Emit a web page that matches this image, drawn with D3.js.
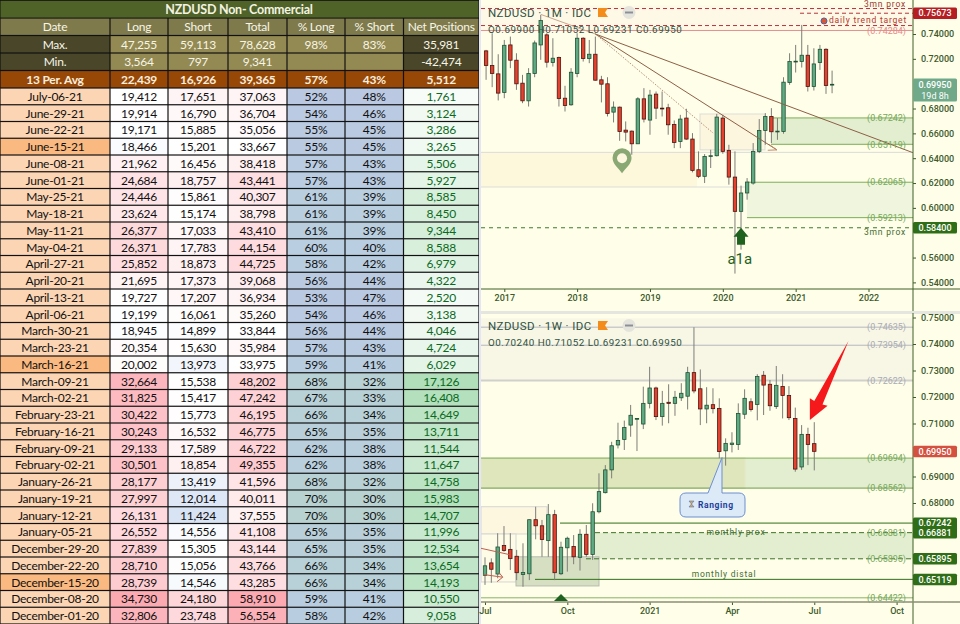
<!DOCTYPE html>
<html>
<head>
<meta charset="utf-8">
<script src="https://cdn.jsdelivr.net/npm/d3@7"></script>
<style>
  html, body { margin: 0; padding: 0; background: #fff; }
  svg { display: block; }
  .cell { font-family: Lato, sans-serif; font-size: 12px; text-anchor: middle; dominant-baseline: central; letter-spacing: -0.25px; }
  .tv { font-family: Roboto, sans-serif; }
  .tick text { font-family: Roboto, sans-serif; font-size: 9px; font-weight: 500; fill: #3c5a2c; }
</style>
</head>
<body>
<div id="chart"></div>
<script>
// table columns
const headers = ["Date", "Long", "Short", "Total", "% Long", "% Short", "Net Positions"];
const maxRow = ["Max.", "47,255", "59,113", "78,628", "98%", "83%", "35,981"];
const minRow = ["Min.", "3,564", "797", "9,341", "", "", "-42,474"];
const avgRow = ["13 Per. Avg", "22,439", "16,926", "39,365", "57%", "43%", "5,512"];
const dates = ["July-06-21", "June-29-21", "June-22-21", "June-15-21", "June-08-21", "June-01-21", "May-25-21", "May-18-21", "May-11-21", "May-04-21", "April-27-21", "April-20-21", "April-13-21", "April-06-21", "March-30-21", "March-23-21", "March-16-21", "March-09-21", "March-02-21", "February-23-21", "February-16-21", "February-09-21", "February-02-21", "January-26-21", "January-19-21", "January-12-21", "January-05-21", "December-29-20", "December-22-20", "December-15-20", "December-08-20", "December-01-20"];
const longs = [19412, 19914, 19171, 18466, 21962, 24684, 24446, 23624, 26377, 26371, 25852, 21695, 19727, 19199, 18945, 20354, 20002, 32664, 31825, 30422, 30243, 29133, 30501, 28177, 27997, 26131, 26552, 27839, 28710, 28739, 34730, 32806];
const shorts = [17651, 16790, 15885, 15201, 16456, 18757, 15861, 15174, 17033, 17783, 18873, 17373, 17207, 16061, 14899, 15630, 13973, 15538, 15417, 15773, 16532, 17589, 18854, 13419, 12014, 11424, 14556, 15305, 15056, 14546, 24180, 23748];
const totals = [37063, 36704, 35056, 33667, 38418, 43441, 40307, 38798, 43410, 44154, 44725, 39068, 36934, 35260, 33844, 35984, 33975, 48202, 47242, 46195, 46775, 46722, 49355, 41596, 40011, 37555, 41108, 43144, 43766, 43285, 58910, 56554];
const pctLongs = [52, 54, 55, 55, 57, 57, 61, 61, 61, 60, 58, 56, 53, 54, 56, 57, 59, 68, 67, 66, 65, 62, 62, 68, 70, 70, 65, 65, 66, 66, 59, 58];
const pctShorts = [48, 46, 45, 45, 43, 43, 39, 39, 39, 40, 42, 44, 47, 46, 44, 43, 41, 32, 33, 34, 35, 38, 38, 32, 30, 30, 35, 35, 34, 34, 41, 42];
const nets = [1761, 3124, 3286, 3265, 5506, 5927, 8585, 8450, 9344, 8588, 6979, 4322, 2520, 3138, 4046, 4724, 6029, 17126, 16408, 14649, 13711, 11544, 11647, 14758, 15983, 14707, 11996, 12534, 13654, 14193, 10550, 9058];
const darkerDates = ["June-15-21", "March-16-21", "December-15-20"];

// monthly candles, Oct 2016 to Jul 2021
const mOpen = [.7264,.7146,.7079,.6929,.7312,.7189,.7004,.6862,.7082,.7312,.7393,.7170,.7210,.6883,.6830,.7082,.7366,.7202,.7237,.7031,.6999,.6771,.6811,.6626,.6618,.6516,.6878,.6707,.6916,.6803,.6806,.6672,.6535,.6723,.6554,.6307,.6254,.6414,.6420,.6723,.6463,.6248,.5972,.6120,.6200,.6455,.6623,.6736,.6613,.6615,.7009,.7178,.7178,.7229,.6977,.7170,.7277,.6990];
const mHigh = [.7272,.7406,.7237,.7352,.7379,.7245,.7071,.7125,.7347,.7553,.7406,.7366,.7218,.6983,.7125,.7406,.7374,.7352,.7379,.7063,.7052,.6857,.6816,.6696,.6623,.6891,.6964,.6950,.6937,.6937,.6838,.6704,.6749,.6798,.6602,.6455,.6433,.6468,.6757,.6749,.6508,.6455,.6179,.6240,.6522,.6715,.6763,.6803,.6723,.7052,.7245,.7312,.7473,.7312,.7285,.7312,.7285,.7105];
const mLow = [.7031,.6972,.6865,.6883,.7125,.6950,.6843,.6816,.7052,.7192,.7130,.7138,.6816,.6776,.6822,.7052,.7178,.7165,.7025,.6849,.6736,.6688,.6540,.6535,.6428,.6516,.6688,.6589,.6715,.6736,.6589,.6481,.6481,.6548,.6286,.6240,.6200,.6321,.6414,.6436,.6187,.5471,.5664,.6066,.6187,.6441,.6508,.6522,.6548,.6597,.6991,.7090,.7130,.6937,.6945,.7111,.6918,.6923];
const mClose = [.7146,.7082,.6924,.7309,.7189,.6999,.6862,.7082,.7328,.7508,.7173,.7205,.6881,.6824,.7092,.7366,.7202,.7237,.7028,.6996,.6760,.6811,.6615,.6610,.6516,.6878,.6715,.6908,.6803,.6800,.6669,.6527,.6715,.6554,.6302,.6254,.6414,.6420,.6731,.6455,.6248,.5972,.6120,.6208,.6455,.6623,.6736,.6613,.6618,.7012,.7178,.7181,.7229,.6977,.7159,.7277,.6985,.6995];

// weekly candles, Jul 2020 to Jul 2021
const wOpen = [.6527,.6574,.6532,.6640,.6625,.6599,.6530,.6533,.6737,.6714,.6658,.6756,.6533,.6631,.6636,.6595,.6682,.6606,.6767,.6839,.6925,.7019,.7040,.7094,.7116,.7098,.7176,.7234,.7126,.7180,.7176,.7197,.7203,.7292,.7231,.7155,.7171,.7157,.6997,.7021,.7021,.7135,.7182,.7172,.7282,.7248,.7164,.7240,.7206,.7119,.6936,.7059,.7024];
const wHigh = [.6595,.6591,.6686,.6713,.6686,.6623,.6648,.6738,.6786,.6736,.6796,.6774,.6654,.6673,.6679,.6701,.6717,.6799,.6912,.6943,.7031,.7103,.7111,.7170,.7119,.7239,.7314,.7239,.7223,.7248,.7223,.7252,.7314,.7463,.7304,.7237,.7233,.7195,.7044,.7067,.7176,.7229,.7195,.7286,.7298,.7264,.7317,.7286,.7241,.7160,.7094,.7084,.7105];
const wLow = [.6491,.6499,.6516,.6616,.6547,.6509,.6484,.6509,.6663,.6597,.6597,.6509,.6528,.6541,.6569,.6545,.6597,.6585,.6761,.6836,.6893,.7006,.7000,.7050,.6996,.7079,.7157,.7113,.7092,.7101,.7129,.7185,.7153,.7214,.7094,.7101,.7138,.6969,.6941,.6991,.7000,.7117,.7145,.7112,.7132,.7148,.7155,.7119,.7113,.6918,.6925,.6943,.6923];
const wClose = [.6563,.6550,.6634,.6621,.6590,.6537,.6538,.6737,.6714,.6662,.6756,.6537,.6633,.6667,.6597,.6682,.6606,.6767,.6843,.6925,.7016,.7036,.7085,.7131,.7119,.7176,.7234,.7126,.7176,.7176,.7199,.7214,.7292,.7223,.7155,.7169,.7156,.6994,.7025,.7026,.7138,.7195,.7153,.7277,.7245,.7167,.7244,.7206,.7122,.6928,.7059,.7021,.6995];

// ticks hidden behind a price tag are left out
const mTicks = [.54, .56, .60, .62, .64, .66, .68, .72, .74];
const wTicks = [.68, .69, .71, .72, .73, .74, .75];
const mYears = ["2017", "2018", "2019", "2020", "2021", "2022"];
const mYearBars = [3, 15, 27, 39, 51, 63];
const wMonths = ["Jul", "Oct", "2021", "Apr", "Jul", "Oct"];
const wMonthBars = [0, 13, 26, 39, 52, 65];

// level labels
const mGreenLevels = [.67242, .65119, .62065, .59213];
const wGreenLevels = [.69694, .68562, .66881, .65895, .64422];
const wGreyLevels = [.74635, .73954, .72622];
const wDarkTags = [.67242, .66881, .65895, .65119];

// trend lines on the monthly pane, [bar, price]
const trendThin = [[9, .7558], [18, .74]];
const trendOuter = [[18, .74], [70.3, .6445]];
const trendMiddle = [[18, .74], [47.9, .6467]];
const trendDotted = [[18, .74], [37.4, .6603]];
const trendMiddleHead = [[46.6, .6512], [47.9, .6467], [46.4, .6464]];
// red arrow on the weekly pane, [bar, price]
const redArrow = [[57.4, .7411], [53.3, .7172], [54.1, .7167], [51.3, .7113], [51.3, .7195], [52, .7185]];
// small arrows at the left of the weekly pane
const wSmallLine = [[-.8, .6630], [3.9, .6605]];
const wSmallLine2 = [[-.2, .6530], [2.8, .6520]];
const wSmallHead = [[2.2, .6538], [2.8, .6520], [1.9, .6503]];

const W = 960, H = 624;
const svg = d3.select("#chart").append("svg").attr("width", W).attr("height", H);

/* ---------- table ---------- */
const colEdges = [0, 110, 168, 228, 287, 345, 403.5, 479];
const table = svg.append("g");
table.append("rect").attr("width", 479).attr("height", H).attr("fill", "#111");

function cell(row, col, y, h, fill, label, color, weight) {
    const x0 = colEdges[col], x1 = colEdges[col + 1];
    const g = table.append("g");
    g.append("rect").attr("x", x0 + 0.6).attr("y", y + 0.6).attr("width", x1 - x0 - 1.2).attr("height", h - 1.2).attr("fill", fill);
    g.append("text").attr("class", "cell")
        .attr("x", (x0 + x1) / 2).attr("y", y + h / 2)
        .attr("fill", color).attr("font-weight", weight || 400).text(label);
}

table.append("rect").attr("x", 0.5).attr("y", 0.8).attr("width", 478).attr("height", 16.8).attr("fill", "#4f6228");
table.append("text").attr("class", "cell").attr("x", 239).attr("y", 9.5)
    .attr("fill", "#f3f3e2").attr("font-weight", 700).style("font-size", "12.5px").text("NZDUSD Non- Commercial");

headers.forEach((d, i) => cell(0, i, 18, 17.5, "#7f7a4c", d, "#f6f5e6"));
maxRow.forEach((d, i) => cell(1, i, 35.5, 17.5, i === 0 || i === 6 ? "#4a462a" : "#938953", d, "#f6f5e6"));
minRow.forEach((d, i) => cell(2, i, 53, 17.5, i === 0 || i === 6 ? "#4a462a" : "#938953", d, "#f6f5e6"));
avgRow.forEach((d, i) => cell(3, i, 70.5, 17.5, "#974806", d, "#fbeede", 700));

const rowY = d3.scaleBand().domain(dates).range([88, 624]);
const fmt = d3.format(",");
const longColor = d3.scaleLinear().domain([11000, 19500, 35000]).range(["#d4e0f3", "#ffffff", "#fca9b1"]);
const shortColor = d3.scaleLinear().domain([11000, 15300, 29000]).range(["#d4e0f3", "#ffffff", "#fcc0c6"]);
const totalColor = d3.scaleLinear().domain([25000, 33700, 58910]).range(["#d4e0f3", "#ffffff", "#fca9b1"]);
const netColor = d3.scaleLinear().domain([0, 17126]).range(["#ffffff", "#b1dfba"]);
const pctColor = d3.scaleLinear().domain([52, 61, 70]).range(["#bac8e2", "#b9cfe0", "#b8d2d2"]);

dates.forEach((d, i) => {
    const y = rowY(d), h = rowY.bandwidth();
    cell(i, 0, y, h, darkerDates.includes(d) ? "#fab980" : "#fcd5b4", d, "#111");
    cell(i, 1, y, h, longColor(longs[i]), fmt(longs[i]), "#111");
    cell(i, 2, y, h, shortColor(shorts[i]), fmt(shorts[i]), "#111");
    cell(i, 3, y, h, totalColor(totals[i]), fmt(totals[i]), "#111");
    cell(i, 4, y, h, pctColor(pctLongs[i]), pctLongs[i] + "%", "#111");
    cell(i, 5, y, h, pctColor(pctLongs[i]), pctShorts[i] + "%", "#111");
    cell(i, 6, y, h, netColor(nets[i]), fmt(nets[i]), "#0b6a1d");
});

/* ---------- panes ---------- */
const paneLeft = 481, axisX = 913;
svg.append("rect").attr("x", 479).attr("width", 2).attr("height", H).attr("fill", "#e4e6f4");
svg.append("rect").attr("x", paneLeft).attr("width", W - paneLeft).attr("height", H).attr("fill", "#fffee9");
svg.append("rect").attr("x", paneLeft).attr("y", 311).attr("width", W - paneLeft).attr("height", 3).attr("fill", "#e6e6e0");

const clip = svg.append("defs");
clip.append("clipPath").attr("id", "clipM").append("rect").attr("x", paneLeft).attr("y", 0).attr("width", axisX - paneLeft).attr("height", 289);
clip.append("clipPath").attr("id", "clipW").append("rect").attr("x", paneLeft).attr("y", 314).attr("width", axisX - paneLeft).attr("height", 288);

const xM = d3.scaleLinear().domain([3, 63]).range([504.3, 868.5]);
const yM = d3.scaleLinear().domain([.54, .74]).range([282.4, 34]);
const xW = d3.scaleLinear().domain([0, 65]).range([485, 896.6]);
const yW = d3.scaleLinear().domain([.68, .75]).range([503, 317.5]);

const paneM = svg.append("g").attr("clip-path", "url(#clipM)");
const paneW = svg.append("g").attr("clip-path", "url(#clipW)");

function zone(pane, y, x0, x1, p0, p1, fill, stroke) {
    const r = pane.append("rect").attr("x", x0).attr("width", x1 - x0)
        .attr("y", y(p0)).attr("height", y(p1) - y(p0)).attr("fill", fill);
    if (stroke) r.attr("stroke", stroke);
}
function level(pane, y, x0, p, color, width, dash) {
    const l = pane.append("line").attr("x1", x0).attr("x2", axisX).attr("y1", y(p)).attr("y2", y(p))
        .attr("stroke", color).attr("stroke-width", width || 1);
    if (dash) l.attr("stroke-dasharray", dash);
}
function levelLabel(parent, y, p, color) {
    parent.append("text").attr("class", "tv").attr("x", 906).attr("y", y(p) + 3.2)
        .attr("text-anchor", "end").attr("font-size", 9).attr("fill", color)
        .text("(" + p.toFixed(5) + ")");
}
function tag(y, p, fill, label, extra) {
    const h = extra ? 23 : 11.5;
    svg.append("rect").attr("x", axisX).attr("y", y(p) - 5.7).attr("width", 44).attr("height", h).attr("rx", 1.5).attr("fill", fill);
    svg.append("text").attr("class", "tv").attr("x", 935).attr("y", y(p) + 3.2).attr("text-anchor", "middle")
        .attr("font-size", 9).attr("font-weight", 500).attr("fill", "#fff").text(label);
    if (extra) svg.append("text").attr("class", "tv").attr("x", 935).attr("y", y(p) + 14.5).attr("text-anchor", "middle")
        .attr("font-size", 9).attr("fill", "#fff").text(extra);
}
function candles(pane, x, y, o, h, l, c) {
    const bars = d3.range(o.length).map(i => ({ i, o: o[i], h: h[i], l: l[i], c: c[i] }));
    const g = pane.selectAll(null).data(bars).enter().append("g");
    g.append("line").attr("x1", d => x(d.i)).attr("x2", d => x(d.i))
        .attr("y1", d => y(d.h)).attr("y2", d => y(d.l))
        .attr("stroke", "#7d7d78").attr("stroke-width", 1);
    g.append("rect").attr("x", d => x(d.i) - 1.7).attr("width", 3.4)
        .attr("y", d => y(Math.max(d.o, d.c)))
        .attr("height", d => Math.max(0.8, Math.abs(y(d.o) - y(d.c))))
        .attr("fill", d => d.c >= d.o ? "#5fa983" : "#e5412e")
        .attr("stroke", d => d.c >= d.o ? "#1f5233" : "#4a1410").attr("stroke-width", 0.8);
}
function axes(pane, x, y, ticks, barTicks, barLabels, axisY, top) {
    svg.append("g").attr("transform", `translate(${axisX},0)`)
        .call(d3.axisRight(y).tickValues(ticks).tickFormat(d3.format(".5f")).tickSize(3).tickPadding(5))
        .call(g => g.select(".domain").remove())
        .call(g => g.selectAll("line").attr("stroke", "#3c5a2c"));
    svg.append("line").attr("x1", axisX).attr("x2", axisX).attr("y1", top).attr("y2", top + 311)
        .attr("stroke", "#3f6127").attr("stroke-width", 1);
    svg.append("g").attr("transform", `translate(0,${axisY})`)
        .call(d3.axisBottom(x).tickValues(barTicks).tickFormat((d, i) => barLabels[i]).tickSize(3).tickPadding(3))
        .call(g => g.select(".domain").remove())
        .call(g => g.selectAll("line").attr("stroke", "#3c5a2c"));
}

/* ---------- monthly pane ---------- */
zone(paneM, yM, paneLeft, axisX, .7631, .74284, "#fef9e6");
zone(paneM, yM, paneLeft, 697, .6447, .6168, "#fdf7dc", null);
level(paneM, yM, paneLeft, .6447, "#dcdcd8", 1);
level(paneM, yM, paneLeft, .6168, "#dcdcd8", 1);
zone(paneM, yM, 700, 765, .6756, .6467, "#fdf6de", "#dcdcd8");
zone(paneM, yM, 771, axisX, mGreenLevels[0], mGreenLevels[1], "#e2eecf");
zone(paneM, yM, 747, axisX, mGreenLevels[2], mGreenLevels[3], "#f0f5dd");
mGreenLevels.forEach((p, i) => level(paneM, yM, i < 2 ? 771 : 747, p, "#7cae58", 1));
level(paneM, yM, paneLeft, .7605, "#b8323a", 1, "4 3");
level(paneM, yM, 800, .75673, "#b8323a", 1, "4 3");
level(paneM, yM, paneLeft, .7468, "#b8323a", 1, "4 3");
level(paneM, yM, paneLeft, .74284, "#e68f8f", 1);
level(paneM, yM, paneLeft, .584, "#3f7a2e", 1, "4 4");

candles(paneM, xM, yM, mOpen, mHigh, mLow, mClose);

const lineGen = (x, y) => d3.line().x(d => x(d[0])).y(d => y(d[1]));
const mLine = lineGen(xM, yM);
paneM.append("path").attr("d", mLine(trendThin)).attr("fill", "none").attr("stroke", "#c8a68c").attr("stroke-width", 1);
paneM.append("path").attr("d", mLine(trendOuter)).attr("fill", "none").attr("stroke", "#8d5f45").attr("stroke-width", 1);
paneM.append("path").attr("d", mLine(trendMiddle)).attr("fill", "none").attr("stroke", "#8d5f45").attr("stroke-width", 1);
paneM.append("path").attr("d", mLine(trendMiddleHead)).attr("fill", "none").attr("stroke", "#c28b6c").attr("stroke-width", 1);
paneM.append("path").attr("d", mLine(trendDotted)).attr("fill", "none").attr("stroke", "#b89078").attr("stroke-width", 1).attr("stroke-dasharray", "1.5 1.5");

// location pin and a1a arrow
const pin = paneM.append("g").attr("transform", `translate(${xM(22.4)},${yM(.64)})`);
pin.append("path").attr("d", "M0,15 C-4,9 -9.5,6 -9.5,-0.5 A9.5,9.5 0 1 1 9.5,-0.5 C9.5,6 4,9 0,15 Z").attr("fill", "#8aa873");
pin.append("circle").attr("r", 5).attr("fill", "#fdf7e0");
const up = paneM.append("g").attr("transform", `translate(${xM(42)},${yM(.584)})`);
up.append("path").attr("d", "M0,0 L7.5,9 L4,9 L4,17 L-4,17 L-4,9 L-7.5,9 Z").attr("fill", "#1f611f");
paneM.append("text").attr("class", "tv").attr("x", xM(41.8)).attr("y", yM(.5552))
    .attr("text-anchor", "middle").attr("font-size", 15).attr("fill", "#1f611f").text("a1a");

mGreenLevels.forEach(p => levelLabel(svg, yM, p, "#76a85a"));
levelLabel(svg, yM, .74284, "#e58a8a");
svg.append("text").attr("class", "tv").attr("x", 906).attr("y", 7).attr("text-anchor", "end")
    .attr("font-size", 8.5).attr("letter-spacing", "0.8px").attr("fill", "#9c3b36").text("3mn prox");
svg.append("text").attr("class", "tv").attr("x", 906).attr("y", 235).attr("text-anchor", "end")
    .attr("font-size", 8.5).attr("letter-spacing", "0.8px").attr("fill", "#3f6c32").text("3mn prox");
svg.append("circle").attr("cx", 824).attr("cy", yM(.7505)).attr("r", 3).attr("fill", "#e2552b").attr("stroke", "#3f66b4").attr("stroke-width", 1);
svg.append("text").attr("class", "tv").attr("x", 907).attr("y", 23).attr("text-anchor", "end")
    .attr("font-size", 8.5).attr("letter-spacing", "0.8px").attr("fill", "#b8362f").text("daily trend target");

axes(paneM, xM, yM, mTicks, mYearBars, mYears, 289, 0);
svg.append("line").attr("x1", paneLeft).attr("x2", W).attr("y1", 289).attr("y2", 289).attr("stroke", "#3f6127");
tag(yM, .75673, "#b51f24", "0.75673");
tag(yM, .6995, "#6fa98a", "0.69950", "19d 8h");
tag(yM, .584, "#2f6e17", "0.58400");

/* ---------- weekly pane ---------- */
zone(paneW, yW, paneLeft, axisX, .7497, .72622, "#f8f7e6");
zone(paneW, yW, paneLeft, axisX, .69694, .68562, "#e2eecf");
zone(paneW, yW, paneLeft, 745, .69694, .68562, "#dfe6bb", "#e4e6c8");
zone(paneW, yW, 595, axisX, .66881, .65895, "#e2eecf");
zone(paneW, yW, paneLeft, 547, .6786, .6683, "#fdf7e0", "#d6d6d4");
zone(paneW, yW, paneLeft, 516, .6683, .6502, "#fefbe6", "#d6d6d4");
zone(paneW, yW, 516, 599, .6597, .6487, "#d6dfc2", "#b6bcb0");
wGreyLevels.forEach((p, i) => level(paneW, yW, paneLeft, p, i === 2 ? "#d0d0cc" : "#b4b6bc", i === 2 ? 2 : 1));
level(paneW, yW, paneLeft, .69694, "#7cae58", 1);
level(paneW, yW, paneLeft, .68562, "#6d9a4e", 1);
level(paneW, yW, paneLeft, .64422, "#86b266", 1);
level(paneW, yW, 560, .67242, "#2f6e17", 1);
level(paneW, yW, 595, .66881, "#3c7428", 1, "5 3");
level(paneW, yW, 586, .65895, "#3c7428", 1, "5 3");
level(paneW, yW, 535, .65119, "#2f6e17", 1);

candles(paneW, xW, yW, wOpen, wHigh, wLow, wClose);

const wLine = lineGen(xW, yW);
paneW.append("path").attr("d", wLine(redArrow) + "Z").attr("fill", "#f5191c");
[wSmallLine, wSmallLine2, wSmallHead].forEach(pts => {
    paneW.append("path").attr("d", wLine(pts)).attr("fill", "none").attr("stroke", "#c0604f").attr("stroke-width", 1);
});
svg.append("path").attr("d", `M${xW(12)-7},${601} L${xW(12)},${594} L${xW(12)+7},${601} Z`).attr("fill", "#1f611f");

// Ranging callout
const note = svg.append("g").attr("transform", `translate(680,${yW(.68)})`);
note.append("path").attr("d", "M6,-10 H28 L42,-45.5 V-10 H59 Q65,-10 65,-4 V8 Q65,14 59,14 H6 Q0,14 0,8 V-4 Q0,-10 6,-10 Z")
    .attr("fill", "#dce9f7").attr("stroke", "#6c8fd1").attr("stroke-width", 1);
note.append("path").attr("d", "M9,-2 h5 l-2.5,3 l2.5,3 h-5 l2.5,-3 Z").attr("fill", "#e8a33a").attr("stroke", "#4a78c4").attr("stroke-width", .6);
note.append("text").attr("class", "tv").attr("x", 18).attr("y", 5).attr("font-size", 8.5).attr("font-weight", 700)
    .attr("letter-spacing", "0.6px").attr("fill", "#1d3f9c").text("Ranging");

wGreyLevels.forEach(p => levelLabel(svg, yW, p, "#a9abb4"));
wGreenLevels.forEach(p => levelLabel(svg, yW, p, "#76a85a"));
svg.append("text").attr("class", "tv").attr("x", 736).attr("y", 535).attr("text-anchor", "middle")
    .attr("font-size", 8.5).attr("letter-spacing", "0.8px").attr("fill", "#3f6c32").text("monthly prox");
svg.append("text").attr("class", "tv").attr("x", 724).attr("y", 577).attr("text-anchor", "middle")
    .attr("font-size", 8.5).attr("letter-spacing", "0.8px").attr("fill", "#3f6c32").text("monthly distal");

axes(paneW, xW, yW, wTicks, wMonthBars, wMonths, 602, 313);
svg.append("line").attr("x1", paneLeft).attr("x2", W).attr("y1", 602).attr("y2", 602).attr("stroke", "#8b8f74").attr("stroke-width", 1.5);
tag(yW, .6995, "#d4503f", "0.69950");
wDarkTags.forEach(p => tag(yW, p, "#2f6e17", p.toFixed(5)));

/* ---------- legends ---------- */
function legend(y0, title, ohlc) {
    svg.append("text").attr("class", "tv").attr("x", 488).attr("y", y0).attr("font-size", 11.5)
        .attr("letter-spacing", "0.4px").attr("fill", "#2f5140").text(title);
    svg.append("path").attr("d", `M598,${y0 - 9} h10 l-3,4.5 l3,4.5 h-10 Z`).attr("fill", "#f48c1c");
    svg.append("circle").attr("cx", 629).attr("cy", y0 - 4.5).attr("r", 6.5).attr("fill", "#e4e4dc");
    svg.append("rect").attr("x", 625).attr("y", y0 - 5.5).attr("width", 8).attr("height", 2).attr("fill", "#8d8f98");
    svg.append("text").attr("class", "tv").attr("x", 488).attr("y", y0 + 16).attr("font-size", 9.8)
        .attr("letter-spacing", "0.55px").attr("fill", "#2f5140").text(ohlc);
}
legend(17, "NZDUSD · 1M · IDC", "O0.69900  H0.71052  L0.69231  C0.69950");
legend(330, "NZDUSD · 1W · IDC", "O0.70240  H0.71052  L0.69231  C0.69950");
</script>
</body>
</html>
